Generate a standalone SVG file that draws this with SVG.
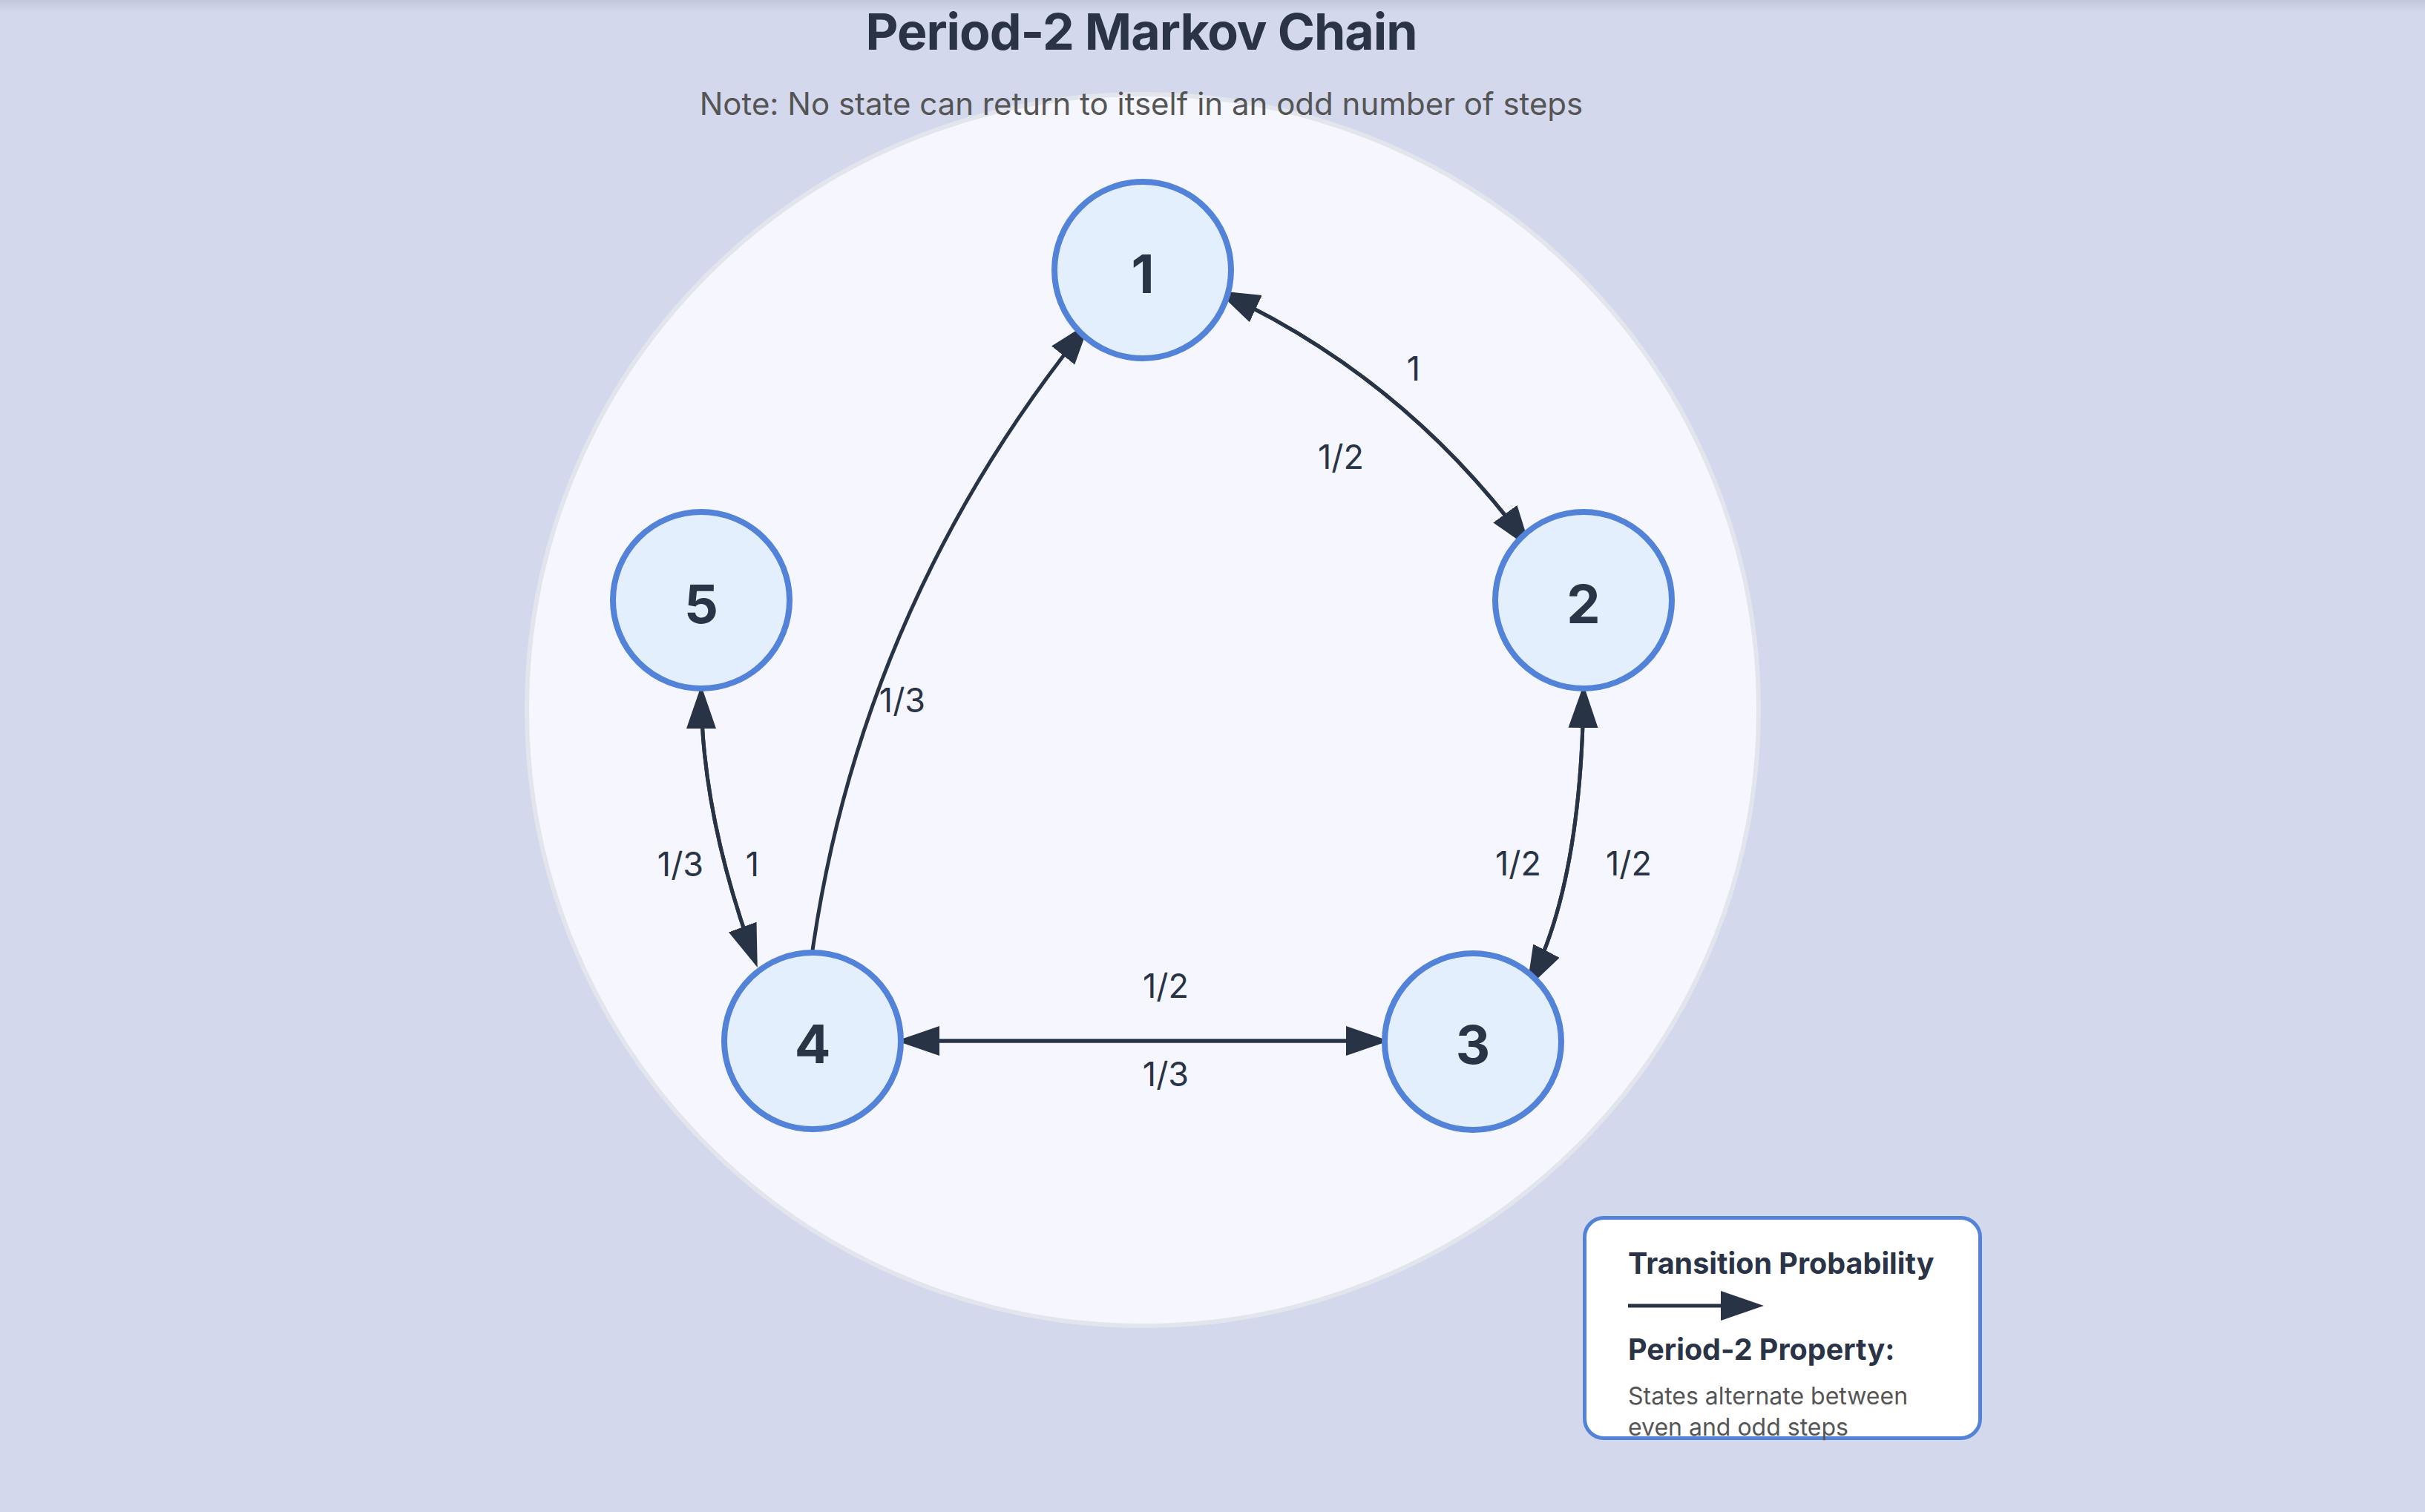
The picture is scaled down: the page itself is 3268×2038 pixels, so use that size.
<svg xmlns="http://www.w3.org/2000/svg" width="3268" height="2038" viewBox="0 0 3268 2038">
<style>
.title{font-family:Inter,"Liberation Sans",sans-serif;font-weight:700;font-size:68px;letter-spacing:-1px;fill:#2a3446;text-anchor:middle}
.sub{font-family:Inter,"Liberation Sans",sans-serif;font-size:42px;fill:#555;text-anchor:middle}
.node circle{fill:#e3effd;stroke:#5383d8;stroke-width:8}
.node text{font-family:Inter,"Liberation Sans",sans-serif;font-weight:700;font-size:72px;fill:#2a3446;text-anchor:middle}
.edge{fill:none;stroke:#283446;stroke-width:5;marker-end:url(#arr)}
.lbl{font-family:Inter,"Liberation Sans",sans-serif;font-size:45px;fill:#283446;text-anchor:middle}
.lg-h{font-family:Inter,"Liberation Sans",sans-serif;font-weight:700;font-size:39.5px;fill:#2a3446}
.lg-t{font-family:Inter,"Liberation Sans",sans-serif;font-size:32px;fill:#555}
</style>
<defs>
<linearGradient id="topshade" x1="0" y1="0" x2="0" y2="1">
<stop offset="0" stop-color="#c2c7db"/>
<stop offset="1" stop-color="#d3d8ec"/>
</linearGradient>
<marker id="arr" markerUnits="userSpaceOnUse" markerWidth="58" markerHeight="42" refX="50" refY="21" orient="auto">
<path d="M0,1 L58,21 L0,41 Z" fill="#283446"/>
</marker>
</defs>
<rect x="0" y="0" width="3268" height="2038" fill="#d3d8ec"/>
<rect x="0" y="0" width="3268" height="16" fill="url(#topshade)"/>
<circle id="backdrop" cx="1540" cy="957" r="830" fill="#f6f7fe" stroke="#e3e5ec" stroke-width="6"/>
<text class="title" x="1538" y="67">Period-2 Markov Chain</text>
<text class="sub" x="1538" y="155">Note: No state can return to itself in an odd number of steps</text>
<g id="connectors">
<path class="edge" d="M1647,395 Q1893,509 2058,733"/>
<path class="edge" d="M2058,733 Q1893,509 1647,395"/>
<path class="edge" d="M2134,931 Q2131.6,1190 2061,1326"/>
<path class="edge" d="M2061,1326 Q2131.6,1190 2134,931"/>
<path class="edge" d="M1216,1403 L1864,1403"/>
<path class="edge" d="M1864,1403 L1216,1403"/>
<path class="edge" d="M945,932 Q945,1098 1018,1296.5"/>
<path class="edge" d="M1018,1296.5 Q945,1098 945,932"/>
<path class="edge" d="M1095,1281 Q1162,815 1464,440"/>
<text class="lbl" x="1905" y="513">1</text>
<text class="lbl" x="1807" y="632">1/2</text>
<text class="lbl" x="2046" y="1180">1/2</text>
<text class="lbl" x="2195" y="1180">1/2</text>
<text class="lbl" x="1571" y="1345">1/2</text>
<text class="lbl" x="1571" y="1464">1/3</text>
<text class="lbl" x="917" y="1181">1/3</text>
<text class="lbl" x="1014" y="1181">1</text>
<text class="lbl" x="1216" y="960">1/3</text>
</g>
<g id="node1" class="node"><circle cx="1540" cy="364" r="119"/><text x="1540" y="395">1</text></g>
<g id="node2" class="node"><circle cx="2134" cy="809" r="119"/><text x="2134" y="840">2</text></g>
<g id="node3" class="node"><circle cx="1985" cy="1404" r="119"/><text x="1985" y="1434">3</text></g>
<g id="node4" class="node"><circle cx="1095" cy="1403" r="119"/><text x="1095" y="1433">4</text></g>
<g id="node5" class="node"><circle cx="945" cy="809" r="119"/><text x="945" y="840">5</text></g>
<g id="legend">
<rect x="2135.5" y="1641.5" width="533" height="297" rx="26" fill="#ffffff" stroke="#5383d8" stroke-width="5"/>
<text class="lg-h" x="2194" y="1717">Transition Probability</text>
<line x1="2194" y1="1760" x2="2325" y2="1760" stroke="#283446" stroke-width="5"/>
<path d="M2319,1740 L2377,1760 L2319,1780 Z" fill="#283446"/>
<text class="lg-h" x="2194" y="1833">Period-2 Property:</text>
<text class="lg-t" x="2194" y="1893">States alternate between</text>
<text class="lg-t" x="2194" y="1935">even and odd steps</text>
</g>
</svg>
